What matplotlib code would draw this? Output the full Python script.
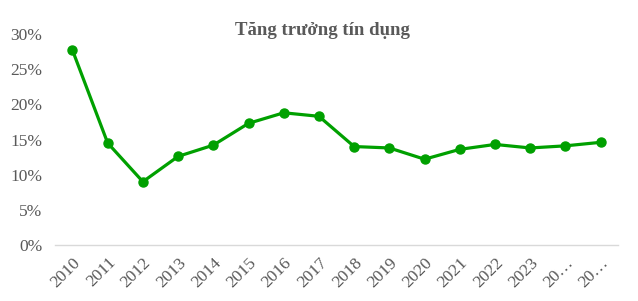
import matplotlib
matplotlib.use("Agg")
import matplotlib.pyplot as plt
from matplotlib.ticker import FuncFormatter

years = ["2010", "2011", "2012", "2013", "2014", "2015", "2016", "2017",
         "2018", "2019", "2020", "2021", "2022", "2023", "2024", "2025"]
tick_labels = ["2010", "2011", "2012", "2013", "2014", "2015", "2016", "2017",
               "2018", "2019", "2020", "2021", "2022", "2023", "20…", "20…"]
credit_growth = [27.7, 14.5, 9.0, 12.6, 14.2, 17.3, 18.8, 18.3,
                 14.0, 13.8, 12.2, 13.6, 14.3, 13.8, 14.1, 14.6]

plt.rcParams['font.family'] = ['Liberation Serif', 'DejaVu Serif']
fig = plt.figure(figsize=(6.38, 3.01), dpi=100)
ax = fig.add_axes([0.086, 0.186, 0.883, 0.701])

x = list(range(len(years)))
ax.plot(x, credit_growth, color="#00A000", lw=2.3, marker="o", ms=6.5,
        solid_joinstyle="round")
ax.set_xlim(-0.5, len(years) - 0.5)
ax.set_ylim(0, 30)
ax.set_yticks(range(0, 31, 5))
ax.yaxis.set_major_formatter(FuncFormatter(lambda v, p: f"{int(v)}%"))
ax.set_xticks(x)
ax.set_xticklabels(tick_labels, rotation=45, ha="right", rotation_mode="anchor")
for s in ["top", "right", "left"]:
    ax.spines[s].set_visible(False)
ax.spines["bottom"].set_color("#D9D9D9")
ax.spines["bottom"].set_linewidth(1)
ax.tick_params(axis="both", length=0, labelsize=12.5, colors="#595959")
ax.tick_params(axis="x", pad=7)
ax.tick_params(axis="y", pad=9)
fig.text(0.505, 0.9, "Tăng trưởng tín dụng", ha="center", va="center",
         fontsize=13.5, fontweight="bold", color="#595959")
fig.savefig("out.png", dpi=100)
